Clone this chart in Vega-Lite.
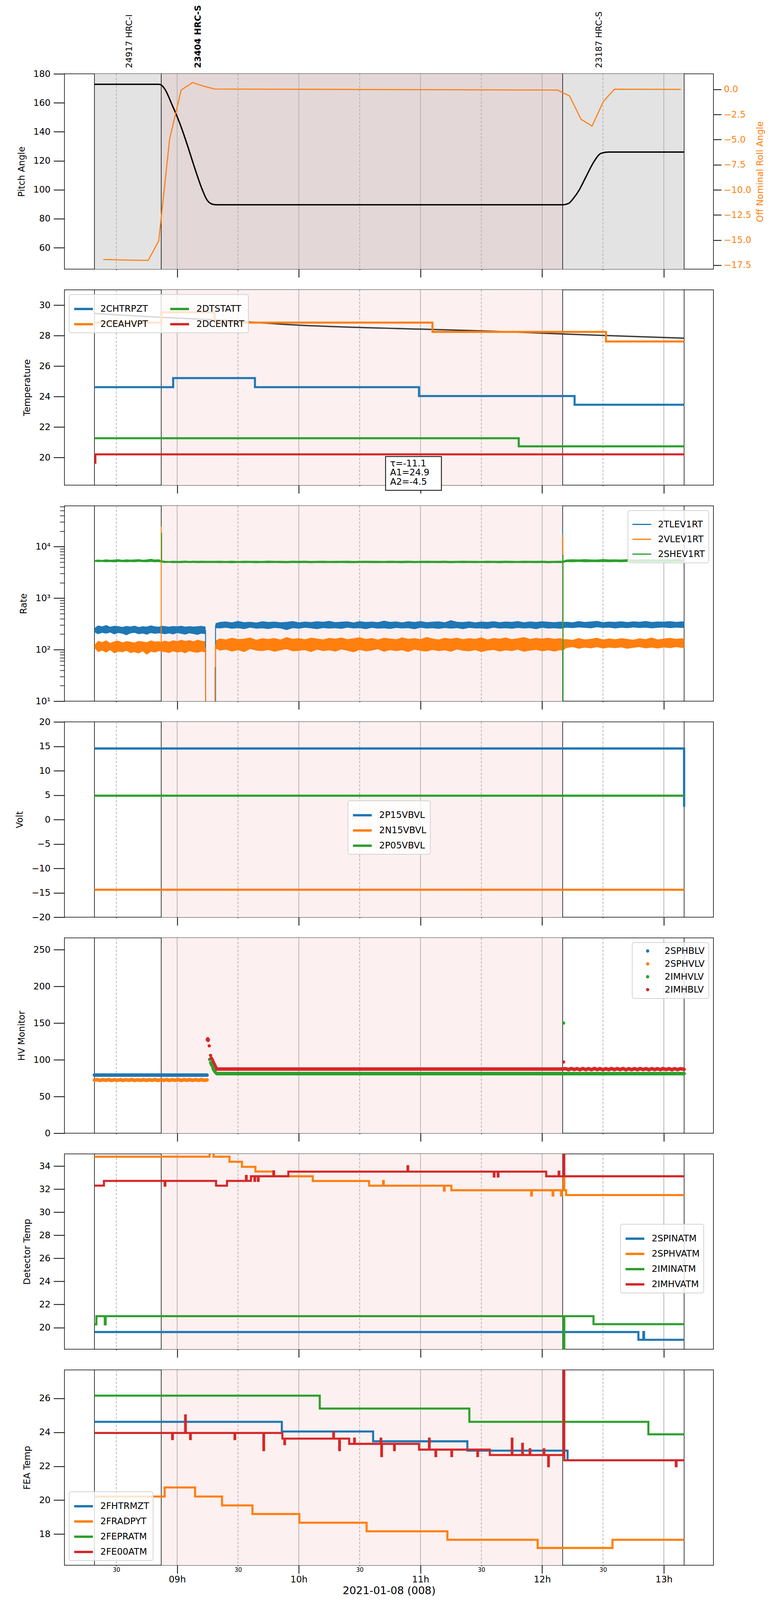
{
  "$schema": "https://vega.github.io/schema/vega-lite/v6.json",
  "padding": {"left": 38, "top": 12, "right": 5, "bottom": 2},
  "background": "white",
  "bounds": "flush",
  "spacing": 53,
  "config": {
    "font": "DejaVu Sans",
    "view": {"stroke": "#000", "strokeWidth": 1.5},
    "axis": {"labelFont": "DejaVu Sans", "titleFont": "DejaVu Sans", "labelFontSize": 23, "titleFontSize": 23, "titleFontWeight": "normal",
      "labelColor": "#000", "titleColor": "#000", "tickColor": "#000", "tickWidth": 2, "tickSize": 28, "labelPadding": 8, "titlePadding": 18, "domain": false, "grid": false},
    "legend": {"labelFont": "DejaVu Sans", "labelFontSize": 23, "labelColor": "#000", "symbolType": "stroke", "symbolStrokeWidth": 6, "symbolSize": 2304,
      "fillColor": "rgba(255,255,255,0.8)", "strokeColor": "#d4d4d4", "strokeWidth": 2, "cornerRadius": 5, "padding": 10, "rowPadding": -24, "labelOffset": 16, "offset": 12, "labelLimit": 0}
  },
  "datasets": {
    "shade": [{"t": "2021-01-08T08:52:08Z", "t2": "2021-01-08T12:10:06Z"}],
    "shadeall": [{"t": "2021-01-08T08:19:12Z", "t2": "2021-01-08T13:10:00Z"}],
    "vl": [{"t": "2021-01-08T08:19:12Z"}, {"t": "2021-01-08T08:52:08Z"}, {"t": "2021-01-08T12:10:06Z"}, {"t": "2021-01-08T13:10:00Z"}],
    "grid": [
      {"t": "2021-01-08T08:30:00Z", "k": "m"}, {"t": "2021-01-08T09:00:00Z", "k": "h"}, {"t": "2021-01-08T09:30:00Z", "k": "m"},
      {"t": "2021-01-08T10:00:00Z", "k": "h"}, {"t": "2021-01-08T10:30:00Z", "k": "m"}, {"t": "2021-01-08T11:00:00Z", "k": "h"},
      {"t": "2021-01-08T11:30:00Z", "k": "m"}, {"t": "2021-01-08T12:00:00Z", "k": "h"}, {"t": "2021-01-08T12:30:00Z", "k": "m"},
      {"t": "2021-01-08T13:00:00Z", "k": "h"}
    ],
    "lab": [
      {"t": "2021-01-08T08:36:20Z", "txt": "24917 HRC-I", "b": 0},
      {"t": "2021-01-08T09:10:16Z", "txt": "23404 HRC-S", "b": 1},
      {"t": "2021-01-08T12:28:00Z", "txt": "23187 HRC-S", "b": 0}
    ],
    "pitch": [
      {"t": "2021-01-08T08:19:12Z", "v": 172.8}, {"t": "2021-01-08T08:50:54Z", "v": 172.8}, {"t": "2021-01-08T08:52:08Z", "v": 172.3},
      {"t": "2021-01-08T08:53:51Z", "v": 169.6}, {"t": "2021-01-08T08:57:32Z", "v": 158.5}, {"t": "2021-01-08T09:01:14Z", "v": 146.1},
      {"t": "2021-01-08T09:04:55Z", "v": 131.3}, {"t": "2021-01-08T09:08:37Z", "v": 115.2}, {"t": "2021-01-08T09:12:18Z", "v": 100.4},
      {"t": "2021-01-08T09:14:45Z", "v": 92.9}, {"t": "2021-01-08T09:17:13Z", "v": 90.1}, {"t": "2021-01-08T09:19:40Z", "v": 89.6},
      {"t": "2021-01-08T12:10:06Z", "v": 89.6}, {"t": "2021-01-08T12:13:00Z", "v": 90.5}, {"t": "2021-01-08T12:15:29Z", "v": 94.2},
      {"t": "2021-01-08T12:17:57Z", "v": 99.1}, {"t": "2021-01-08T12:21:38Z", "v": 109.0}, {"t": "2021-01-08T12:25:20Z", "v": 118.9},
      {"t": "2021-01-08T12:29:00Z", "v": 125.1}, {"t": "2021-01-08T12:32:43Z", "v": 126.0}, {"t": "2021-01-08T13:10:00Z", "v": 126.0}
    ],
    "roll": [
      {"t": "2021-01-08T08:23:36Z", "v": -16.93}, {"t": "2021-01-08T08:34:12Z", "v": -16.98}, {"t": "2021-01-08T08:45:42Z", "v": -17.02},
      {"t": "2021-01-08T08:50:54Z", "v": -15.09}, {"t": "2021-01-08T08:56:18Z", "v": -4.94}, {"t": "2021-01-08T09:01:58Z", "v": -0.07},
      {"t": "2021-01-08T09:07:37Z", "v": 0.68}, {"t": "2021-01-08T09:12:47Z", "v": 0.34}, {"t": "2021-01-08T09:18:25Z", "v": 0.04},
      {"t": "2021-01-08T12:07:37Z", "v": -0.07}, {"t": "2021-01-08T12:13:32Z", "v": -0.66}, {"t": "2021-01-08T12:19:12Z", "v": -2.98},
      {"t": "2021-01-08T12:24:36Z", "v": -3.65}, {"t": "2021-01-08T12:30:14Z", "v": -1.19}, {"t": "2021-01-08T12:35:40Z", "v": 0.02},
      {"t": "2021-01-08T13:08:22Z", "v": 0.0}
    ],
    "model": [
      {"t": "2021-01-08T08:19:12Z", "v": 29.46}, {"t": "2021-01-08T08:52:08Z", "v": 29.2}, {"t": "2021-01-08T09:18:27Z", "v": 29.04},
      {"t": "2021-01-08T10:00:15Z", "v": 28.69}, {"t": "2021-01-08T11:00:00Z", "v": 28.43}, {"t": "2021-01-08T11:38:36Z", "v": 28.28},
      {"t": "2021-01-08T12:10:06Z", "v": 28.11}, {"t": "2021-01-08T13:10:00Z", "v": 27.84}
    ],
    "p2": [
      {"s": "2CHTRPZT", "t": "2021-01-08T08:19:12Z", "v": 24.62}, {"s": "2CHTRPZT", "t": "2021-01-08T08:58:02Z", "v": 25.22},
      {"s": "2CHTRPZT", "t": "2021-01-08T09:38:22Z", "v": 24.62}, {"s": "2CHTRPZT", "t": "2021-01-08T10:59:16Z", "v": 24.04},
      {"s": "2CHTRPZT", "t": "2021-01-08T12:15:59Z", "v": 23.47}, {"s": "2CHTRPZT", "t": "2021-01-08T13:10:00Z", "v": 23.47},
      {"s": "2CEAHVPT", "t": "2021-01-08T08:19:12Z", "v": 28.86}, {"s": "2CEAHVPT", "t": "2021-01-08T08:52:08Z", "v": 29.54},
      {"s": "2CEAHVPT", "t": "2021-01-08T09:18:27Z", "v": 28.86}, {"s": "2CEAHVPT", "t": "2021-01-08T11:05:54Z", "v": 28.25},
      {"s": "2CEAHVPT", "t": "2021-01-08T12:31:28Z", "v": 27.62}, {"s": "2CEAHVPT", "t": "2021-01-08T13:10:00Z", "v": 27.62},
      {"s": "2DTSTATT", "t": "2021-01-08T08:19:12Z", "v": 21.27}, {"s": "2DTSTATT", "t": "2021-01-08T11:48:27Z", "v": 20.74},
      {"s": "2DTSTATT", "t": "2021-01-08T13:10:00Z", "v": 20.74},
      {"s": "2DCENTRT", "t": "2021-01-08T08:19:12Z", "v": 19.66}, {"s": "2DCENTRT", "t": "2021-01-08T08:19:40Z", "v": 20.21},
      {"s": "2DCENTRT", "t": "2021-01-08T13:10:00Z", "v": 20.21}
    ],
    "ann": [{"t": "2021-01-08T10:42:47Z", "t2": "2021-01-08T11:10:19Z"}],
    "anntxt": [{"t": "2021-01-08T10:45:00Z"}],
    "p3": [
      {"seg": "a", "t": "2021-01-08T08:19:12Z", "b1": 218, "b2": 262, "o1": 108, "o2": 122, "g1": 5100, "g2": 5450},
      {"seg": "a", "t": "2021-01-08T08:21:00Z", "b1": 200, "b2": 295, "o1": 90, "o2": 148, "g1": 5000, "g2": 5600},
      {"seg": "a", "t": "2021-01-08T08:23:00Z", "b1": 212, "b2": 282, "o1": 96, "o2": 140, "g1": 5050, "g2": 5500},
      {"seg": "a", "t": "2021-01-08T08:25:00Z", "b1": 205, "b2": 300, "o1": 88, "o2": 152, "g1": 4980, "g2": 5650},
      {"seg": "a", "t": "2021-01-08T08:27:00Z", "b1": 215, "b2": 278, "o1": 98, "o2": 135, "g1": 5020, "g2": 5550},
      {"seg": "a", "t": "2021-01-08T08:29:00Z", "b1": 198, "b2": 290, "o1": 85, "o2": 145, "g1": 4950, "g2": 5600},
      {"seg": "a", "t": "2021-01-08T08:31:00Z", "b1": 210, "b2": 285, "o1": 92, "o2": 150, "g1": 5050, "g2": 5700},
      {"seg": "a", "t": "2021-01-08T08:33:00Z", "b1": 204, "b2": 276, "o1": 89, "o2": 138, "g1": 5000, "g2": 5520},
      {"seg": "a", "t": "2021-01-08T08:35:00Z", "b1": 190, "b2": 288, "o1": 95, "o2": 146, "g1": 4970, "g2": 5650},
      {"seg": "a", "t": "2021-01-08T08:37:00Z", "b1": 208, "b2": 281, "o1": 86, "o2": 142, "g1": 5030, "g2": 5580},
      {"seg": "a", "t": "2021-01-08T08:39:00Z", "b1": 212, "b2": 292, "o1": 90, "o2": 137, "g1": 4990, "g2": 5620},
      {"seg": "a", "t": "2021-01-08T08:41:00Z", "b1": 200, "b2": 275, "o1": 84, "o2": 148, "g1": 5060, "g2": 5700},
      {"seg": "a", "t": "2021-01-08T08:43:00Z", "b1": 206, "b2": 284, "o1": 93, "o2": 144, "g1": 5000, "g2": 5560},
      {"seg": "a", "t": "2021-01-08T08:45:00Z", "b1": 195, "b2": 279, "o1": 80, "o2": 139, "g1": 4980, "g2": 5640},
      {"seg": "a", "t": "2021-01-08T08:47:00Z", "b1": 210, "b2": 296, "o1": 91, "o2": 151, "g1": 5040, "g2": 5800},
      {"seg": "a", "t": "2021-01-08T08:49:00Z", "b1": 203, "b2": 283, "o1": 88, "o2": 143, "g1": 4990, "g2": 5600},
      {"seg": "a", "t": "2021-01-08T08:51:00Z", "b1": 208, "b2": 278, "o1": 94, "o2": 146, "g1": 5010, "g2": 5680},
      {"seg": "a", "t": "2021-01-08T08:52:08Z", "b1": 205, "b2": 290, "o1": 92, "o2": 140, "g1": 4900, "g2": 5400},
      {"seg": "a", "t": "2021-01-08T08:54:00Z", "b1": 200, "b2": 285, "o1": 90, "o2": 150, "g1": 4800, "g2": 5300},
      {"seg": "a", "t": "2021-01-08T08:56:00Z", "b1": 207, "b2": 280, "o1": 86, "o2": 142, "g1": 4850, "g2": 5250},
      {"seg": "a", "t": "2021-01-08T08:58:00Z", "b1": 198, "b2": 287, "o1": 93, "o2": 152, "g1": 4780, "g2": 5320},
      {"seg": "a", "t": "2021-01-08T09:00:00Z", "b1": 210, "b2": 283, "o1": 88, "o2": 146, "g1": 4820, "g2": 5280},
      {"seg": "a", "t": "2021-01-08T09:02:00Z", "b1": 203, "b2": 290, "o1": 91, "o2": 155, "g1": 4790, "g2": 5300},
      {"seg": "a", "t": "2021-01-08T09:04:00Z", "b1": 196, "b2": 279, "o1": 85, "o2": 148, "g1": 4840, "g2": 5330},
      {"seg": "a", "t": "2021-01-08T09:06:00Z", "b1": 208, "b2": 286, "o1": 94, "o2": 153, "g1": 4800, "g2": 5270},
      {"seg": "a", "t": "2021-01-08T09:08:00Z", "b1": 201, "b2": 281, "o1": 89, "o2": 145, "g1": 4830, "g2": 5310},
      {"seg": "a", "t": "2021-01-08T09:10:00Z", "b1": 194, "b2": 284, "o1": 87, "o2": 156, "g1": 4790, "g2": 5290},
      {"seg": "a", "t": "2021-01-08T09:12:00Z", "b1": 205, "b2": 289, "o1": 92, "o2": 149, "g1": 4820, "g2": 5320},
      {"seg": "a", "t": "2021-01-08T09:14:01Z", "b1": 200, "b2": 280, "o1": 88, "o2": 145, "g1": 4800, "g2": 5300},
      {"seg": "b", "t": "2021-01-08T09:18:56Z", "b1": 262, "b2": 325, "o1": 105, "o2": 150, "g1": 4800, "g2": 5300},
      {"seg": "b", "t": "2021-01-08T09:21:00Z", "b1": 258, "b2": 345, "o1": 96, "o2": 165, "g1": 4780, "g2": 5320},
      {"seg": "b", "t": "2021-01-08T09:24:00Z", "b1": 266, "b2": 352, "o1": 100, "o2": 158, "g1": 4820, "g2": 5280},
      {"seg": "b", "t": "2021-01-08T09:27:00Z", "b1": 255, "b2": 338, "o1": 92, "o2": 170, "g1": 4760, "g2": 5320},
      {"seg": "b", "t": "2021-01-08T09:30:00Z", "b1": 262, "b2": 360, "o1": 98, "o2": 160, "g1": 4800, "g2": 5260},
      {"seg": "b", "t": "2021-01-08T09:33:00Z", "b1": 250, "b2": 342, "o1": 90, "o2": 163, "g1": 4790, "g2": 5310},
      {"seg": "b", "t": "2021-01-08T09:36:00Z", "b1": 268, "b2": 348, "o1": 103, "o2": 172, "g1": 4810, "g2": 5290},
      {"seg": "b", "t": "2021-01-08T09:39:00Z", "b1": 256, "b2": 335, "o1": 96, "o2": 155, "g1": 4770, "g2": 5300},
      {"seg": "b", "t": "2021-01-08T09:42:00Z", "b1": 260, "b2": 356, "o1": 94, "o2": 166, "g1": 4800, "g2": 5270},
      {"seg": "b", "t": "2021-01-08T09:45:00Z", "b1": 252, "b2": 344, "o1": 99, "o2": 161, "g1": 4780, "g2": 5330},
      {"seg": "b", "t": "2021-01-08T09:48:00Z", "b1": 264, "b2": 350, "o1": 91, "o2": 168, "g1": 4820, "g2": 5290},
      {"seg": "b", "t": "2021-01-08T09:51:00Z", "b1": 258, "b2": 340, "o1": 97, "o2": 157, "g1": 4790, "g2": 5300},
      {"seg": "b", "t": "2021-01-08T09:54:00Z", "b1": 240, "b2": 346, "o1": 102, "o2": 175, "g1": 4760, "g2": 5280},
      {"seg": "b", "t": "2021-01-08T09:57:00Z", "b1": 262, "b2": 358, "o1": 93, "o2": 162, "g1": 4810, "g2": 5320},
      {"seg": "b", "t": "2021-01-08T10:00:00Z", "b1": 255, "b2": 339, "o1": 95, "o2": 167, "g1": 4790, "g2": 5290},
      {"seg": "b", "t": "2021-01-08T10:03:00Z", "b1": 266, "b2": 351, "o1": 98, "o2": 159, "g1": 4800, "g2": 5310},
      {"seg": "b", "t": "2021-01-08T10:06:00Z", "b1": 259, "b2": 343, "o1": 90, "o2": 171, "g1": 4770, "g2": 5280},
      {"seg": "b", "t": "2021-01-08T10:09:00Z", "b1": 250, "b2": 355, "o1": 100, "o2": 164, "g1": 4820, "g2": 5300},
      {"seg": "b", "t": "2021-01-08T10:12:00Z", "b1": 263, "b2": 347, "o1": 94, "o2": 158, "g1": 4790, "g2": 5320},
      {"seg": "b", "t": "2021-01-08T10:15:00Z", "b1": 257, "b2": 362, "o1": 97, "o2": 169, "g1": 4800, "g2": 5270},
      {"seg": "b", "t": "2021-01-08T10:18:00Z", "b1": 261, "b2": 341, "o1": 92, "o2": 163, "g1": 4780, "g2": 5300},
      {"seg": "b", "t": "2021-01-08T10:21:00Z", "b1": 254, "b2": 349, "o1": 101, "o2": 172, "g1": 4810, "g2": 5290},
      {"seg": "b", "t": "2021-01-08T10:24:00Z", "b1": 267, "b2": 353, "o1": 95, "o2": 160, "g1": 4790, "g2": 5310},
      {"seg": "b", "t": "2021-01-08T10:27:00Z", "b1": 258, "b2": 337, "o1": 89, "o2": 166, "g1": 4770, "g2": 5280},
      {"seg": "b", "t": "2021-01-08T10:30:00Z", "b1": 262, "b2": 357, "o1": 99, "o2": 174, "g1": 4800, "g2": 5300},
      {"seg": "b", "t": "2021-01-08T10:33:00Z", "b1": 251, "b2": 345, "o1": 93, "o2": 161, "g1": 4820, "g2": 5320},
      {"seg": "b", "t": "2021-01-08T10:36:00Z", "b1": 265, "b2": 350, "o1": 96, "o2": 168, "g1": 4790, "g2": 5290},
      {"seg": "b", "t": "2021-01-08T10:39:00Z", "b1": 256, "b2": 342, "o1": 102, "o2": 157, "g1": 4780, "g2": 5300},
      {"seg": "b", "t": "2021-01-08T10:42:00Z", "b1": 260, "b2": 365, "o1": 91, "o2": 170, "g1": 4810, "g2": 5280},
      {"seg": "b", "t": "2021-01-08T10:45:00Z", "b1": 253, "b2": 346, "o1": 98, "o2": 165, "g1": 4790, "g2": 5310},
      {"seg": "b", "t": "2021-01-08T10:48:00Z", "b1": 264, "b2": 352, "o1": 94, "o2": 159, "g1": 4800, "g2": 5290},
      {"seg": "b", "t": "2021-01-08T10:51:00Z", "b1": 258, "b2": 338, "o1": 97, "o2": 173, "g1": 4770, "g2": 5300},
      {"seg": "b", "t": "2021-01-08T10:54:00Z", "b1": 262, "b2": 355, "o1": 90, "o2": 162, "g1": 4820, "g2": 5320},
      {"seg": "b", "t": "2021-01-08T10:57:00Z", "b1": 249, "b2": 344, "o1": 100, "o2": 167, "g1": 4790, "g2": 5280},
      {"seg": "b", "t": "2021-01-08T11:00:00Z", "b1": 266, "b2": 358, "o1": 95, "o2": 160, "g1": 4800, "g2": 5300},
      {"seg": "b", "t": "2021-01-08T11:03:00Z", "b1": 257, "b2": 341, "o1": 92, "o2": 176, "g1": 4780, "g2": 5310},
      {"seg": "b", "t": "2021-01-08T11:06:00Z", "b1": 261, "b2": 349, "o1": 99, "o2": 164, "g1": 4810, "g2": 5290},
      {"seg": "b", "t": "2021-01-08T11:09:00Z", "b1": 254, "b2": 353, "o1": 94, "o2": 158, "g1": 4790, "g2": 5300},
      {"seg": "b", "t": "2021-01-08T11:12:00Z", "b1": 263, "b2": 340, "o1": 97, "o2": 169, "g1": 4800, "g2": 5320},
      {"seg": "b", "t": "2021-01-08T11:15:00Z", "b1": 256, "b2": 372, "o1": 91, "o2": 163, "g1": 4770, "g2": 5280},
      {"seg": "b", "t": "2021-01-08T11:18:00Z", "b1": 262, "b2": 347, "o1": 101, "o2": 171, "g1": 4820, "g2": 5300},
      {"seg": "b", "t": "2021-01-08T11:21:00Z", "b1": 251, "b2": 343, "o1": 95, "o2": 160, "g1": 4790, "g2": 5310},
      {"seg": "b", "t": "2021-01-08T11:24:00Z", "b1": 265, "b2": 354, "o1": 93, "o2": 167, "g1": 4800, "g2": 5290},
      {"seg": "b", "t": "2021-01-08T11:27:00Z", "b1": 258, "b2": 339, "o1": 98, "o2": 162, "g1": 4780, "g2": 5300},
      {"seg": "b", "t": "2021-01-08T11:30:00Z", "b1": 260, "b2": 351, "o1": 90, "o2": 174, "g1": 4810, "g2": 5280},
      {"seg": "b", "t": "2021-01-08T11:33:00Z", "b1": 253, "b2": 345, "o1": 96, "o2": 158, "g1": 4790, "g2": 5320},
      {"seg": "b", "t": "2021-01-08T11:36:00Z", "b1": 267, "b2": 356, "o1": 99, "o2": 168, "g1": 4800, "g2": 5300},
      {"seg": "b", "t": "2021-01-08T11:39:00Z", "b1": 257, "b2": 342, "o1": 92, "o2": 163, "g1": 4770, "g2": 5290},
      {"seg": "b", "t": "2021-01-08T11:42:00Z", "b1": 261, "b2": 350, "o1": 97, "o2": 172, "g1": 4820, "g2": 5310},
      {"seg": "b", "t": "2021-01-08T11:45:00Z", "b1": 255, "b2": 346, "o1": 94, "o2": 160, "g1": 4790, "g2": 5300},
      {"seg": "b", "t": "2021-01-08T11:48:00Z", "b1": 264, "b2": 358, "o1": 100, "o2": 166, "g1": 4800, "g2": 5280},
      {"seg": "b", "t": "2021-01-08T11:51:00Z", "b1": 258, "b2": 340, "o1": 91, "o2": 175, "g1": 4780, "g2": 5320},
      {"seg": "b", "t": "2021-01-08T11:54:00Z", "b1": 262, "b2": 352, "o1": 96, "o2": 161, "g1": 4810, "g2": 5290},
      {"seg": "b", "t": "2021-01-08T11:57:00Z", "b1": 250, "b2": 344, "o1": 99, "o2": 169, "g1": 4790, "g2": 5300},
      {"seg": "b", "t": "2021-01-08T12:00:00Z", "b1": 266, "b2": 355, "o1": 93, "o2": 164, "g1": 4800, "g2": 5310},
      {"seg": "b", "t": "2021-01-08T12:03:00Z", "b1": 257, "b2": 348, "o1": 97, "o2": 170, "g1": 4770, "g2": 5280},
      {"seg": "b", "t": "2021-01-08T12:06:00Z", "b1": 261, "b2": 341, "o1": 92, "o2": 162, "g1": 4820, "g2": 5300},
      {"seg": "b", "t": "2021-01-08T12:09:00Z", "b1": 255, "b2": 350, "o1": 98, "o2": 168, "g1": 4790, "g2": 5310},
      {"seg": "b", "t": "2021-01-08T12:10:06Z", "b1": 258, "b2": 345, "o1": 95, "o2": 160, "g1": 4800, "g2": 5300},
      {"seg": "b", "t": "2021-01-08T12:12:00Z", "b1": 268, "b2": 348, "o1": 108, "o2": 160, "g1": 5000, "g2": 5600},
      {"seg": "b", "t": "2021-01-08T12:15:00Z", "b1": 262, "b2": 340, "o1": 112, "o2": 155, "g1": 4980, "g2": 5680},
      {"seg": "b", "t": "2021-01-08T12:18:00Z", "b1": 270, "b2": 358, "o1": 104, "o2": 168, "g1": 5050, "g2": 5620},
      {"seg": "b", "t": "2021-01-08T12:21:00Z", "b1": 265, "b2": 345, "o1": 110, "o2": 158, "g1": 4970, "g2": 5700},
      {"seg": "b", "t": "2021-01-08T12:24:00Z", "b1": 260, "b2": 352, "o1": 106, "o2": 162, "g1": 5010, "g2": 5640},
      {"seg": "b", "t": "2021-01-08T12:27:00Z", "b1": 272, "b2": 362, "o1": 112, "o2": 170, "g1": 4990, "g2": 5600},
      {"seg": "b", "t": "2021-01-08T12:30:00Z", "b1": 264, "b2": 341, "o1": 105, "o2": 157, "g1": 5030, "g2": 5720},
      {"seg": "b", "t": "2021-01-08T12:33:00Z", "b1": 268, "b2": 350, "o1": 110, "o2": 165, "g1": 4980, "g2": 5630},
      {"seg": "b", "t": "2021-01-08T12:36:00Z", "b1": 258, "b2": 346, "o1": 107, "o2": 159, "g1": 5020, "g2": 5660},
      {"seg": "b", "t": "2021-01-08T12:39:00Z", "b1": 266, "b2": 355, "o1": 111, "o2": 167, "g1": 4990, "g2": 5610},
      {"seg": "b", "t": "2021-01-08T12:42:00Z", "b1": 262, "b2": 343, "o1": 104, "o2": 161, "g1": 5040, "g2": 5700},
      {"seg": "b", "t": "2021-01-08T12:45:00Z", "b1": 270, "b2": 353, "o1": 109, "o2": 156, "g1": 4970, "g2": 5640},
      {"seg": "b", "t": "2021-01-08T12:48:00Z", "b1": 263, "b2": 347, "o1": 112, "o2": 166, "g1": 5010, "g2": 5620},
      {"seg": "b", "t": "2021-01-08T12:51:00Z", "b1": 267, "b2": 360, "o1": 106, "o2": 160, "g1": 4990, "g2": 5690},
      {"seg": "b", "t": "2021-01-08T12:54:00Z", "b1": 259, "b2": 344, "o1": 110, "o2": 172, "g1": 5030, "g2": 5650},
      {"seg": "b", "t": "2021-01-08T12:57:00Z", "b1": 265, "b2": 352, "o1": 105, "o2": 158, "g1": 4980, "g2": 5610},
      {"seg": "b", "t": "2021-01-08T13:00:00Z", "b1": 270, "b2": 349, "o1": 111, "o2": 164, "g1": 5020, "g2": 5700},
      {"seg": "b", "t": "2021-01-08T13:03:00Z", "b1": 262, "b2": 357, "o1": 107, "o2": 169, "g1": 4990, "g2": 5640},
      {"seg": "b", "t": "2021-01-08T13:06:00Z", "b1": 268, "b2": 346, "o1": 112, "o2": 162, "g1": 5040, "g2": 5760},
      {"seg": "b", "t": "2021-01-08T13:09:00Z", "b1": 264, "b2": 354, "o1": 108, "o2": 166, "g1": 5000, "g2": 5650},
      {"seg": "b", "t": "2021-01-08T13:10:00Z", "b1": 266, "b2": 350, "o1": 110, "o2": 160, "g1": 5000, "g2": 5600}
    ],
    "p3s": [
      {"c": "2VLEV1RT", "t": "2021-01-08T08:52:08Z", "y": 120, "y2": 24600},
      {"c": "2SHEV1RT", "t": "2021-01-08T08:52:20Z", "y": 5100, "y2": 18700},
      {"c": "2TLEV1RT", "t": "2021-01-08T09:14:01Z", "y": 10, "y2": 240},
      {"c": "2VLEV1RT", "t": "2021-01-08T09:14:01Z", "y": 10, "y2": 110},
      {"c": "2TLEV1RT", "t": "2021-01-08T09:18:56Z", "y": 10, "y2": 300},
      {"c": "2VLEV1RT", "t": "2021-01-08T09:18:40Z", "y": 10, "y2": 46},
      {"c": "2VLEV1RT", "t": "2021-01-08T09:18:56Z", "y": 46, "y2": 125},
      {"c": "2TLEV1RT", "t": "2021-01-08T12:10:06Z", "y": 300, "y2": 22500},
      {"c": "2VLEV1RT", "t": "2021-01-08T12:10:12Z", "y": 100, "y2": 17000},
      {"c": "2SHEV1RT", "t": "2021-01-08T12:10:18Z", "y": 10, "y2": 7000}
    ],
    "p4": [
      {"s": "2P15VBVL", "t": "2021-01-08T08:19:12Z", "v": 14.55}, {"s": "2P15VBVL", "t": "2021-01-08T13:09:58Z", "v": 14.55},
      {"s": "2P15VBVL", "t": "2021-01-08T13:10:00Z", "v": 2.62},
      {"s": "2N15VBVL", "t": "2021-01-08T08:19:12Z", "v": -14.38}, {"s": "2N15VBVL", "t": "2021-01-08T13:10:00Z", "v": -14.38},
      {"s": "2P05VBVL", "t": "2021-01-08T08:19:12Z", "v": 4.88}, {"s": "2P05VBVL", "t": "2021-01-08T13:10:00Z", "v": 4.88}
    ],
    "p5l": [
      {"s": "2SPHBLV", "t": "2021-01-08T08:19:12Z", "v": 79.2}, {"s": "2SPHBLV", "t": "2021-01-08T09:14:45Z", "v": 79.2},
      {"s": "2SPHVLV", "t": "2021-01-08T08:19:12Z", "v": 72.4}, {"s": "2SPHVLV", "t": "2021-01-08T08:20:30Z", "v": 73.0},
      {"s": "2SPHVLV", "t": "2021-01-08T08:22:00Z", "v": 71.9}, {"s": "2SPHVLV", "t": "2021-01-08T08:23:20Z", "v": 72.9},
      {"s": "2SPHVLV", "t": "2021-01-08T08:24:50Z", "v": 72.0}, {"s": "2SPHVLV", "t": "2021-01-08T08:26:10Z", "v": 73.1},
      {"s": "2SPHVLV", "t": "2021-01-08T08:27:40Z", "v": 71.8}, {"s": "2SPHVLV", "t": "2021-01-08T08:29:00Z", "v": 72.9},
      {"s": "2SPHVLV", "t": "2021-01-08T08:30:30Z", "v": 72.0}, {"s": "2SPHVLV", "t": "2021-01-08T08:32:00Z", "v": 73.0},
      {"s": "2SPHVLV", "t": "2021-01-08T08:33:20Z", "v": 71.9}, {"s": "2SPHVLV", "t": "2021-01-08T08:34:50Z", "v": 72.9},
      {"s": "2SPHVLV", "t": "2021-01-08T08:36:10Z", "v": 72.0}, {"s": "2SPHVLV", "t": "2021-01-08T08:37:40Z", "v": 73.1},
      {"s": "2SPHVLV", "t": "2021-01-08T08:39:00Z", "v": 71.8}, {"s": "2SPHVLV", "t": "2021-01-08T08:40:30Z", "v": 72.8},
      {"s": "2SPHVLV", "t": "2021-01-08T08:42:00Z", "v": 72.0}, {"s": "2SPHVLV", "t": "2021-01-08T08:43:20Z", "v": 73.0},
      {"s": "2SPHVLV", "t": "2021-01-08T08:44:50Z", "v": 71.9}, {"s": "2SPHVLV", "t": "2021-01-08T08:46:10Z", "v": 72.9},
      {"s": "2SPHVLV", "t": "2021-01-08T08:47:40Z", "v": 72.0}, {"s": "2SPHVLV", "t": "2021-01-08T08:49:00Z", "v": 73.1},
      {"s": "2SPHVLV", "t": "2021-01-08T08:50:30Z", "v": 71.8}, {"s": "2SPHVLV", "t": "2021-01-08T08:52:00Z", "v": 72.9},
      {"s": "2SPHVLV", "t": "2021-01-08T08:53:20Z", "v": 72.0}, {"s": "2SPHVLV", "t": "2021-01-08T08:54:50Z", "v": 73.0},
      {"s": "2SPHVLV", "t": "2021-01-08T08:56:10Z", "v": 71.9}, {"s": "2SPHVLV", "t": "2021-01-08T08:57:40Z", "v": 72.8},
      {"s": "2SPHVLV", "t": "2021-01-08T08:59:00Z", "v": 72.0}, {"s": "2SPHVLV", "t": "2021-01-08T09:00:30Z", "v": 73.1},
      {"s": "2SPHVLV", "t": "2021-01-08T09:02:00Z", "v": 71.8}, {"s": "2SPHVLV", "t": "2021-01-08T09:03:20Z", "v": 72.9},
      {"s": "2SPHVLV", "t": "2021-01-08T09:04:50Z", "v": 72.0}, {"s": "2SPHVLV", "t": "2021-01-08T09:06:10Z", "v": 73.0},
      {"s": "2SPHVLV", "t": "2021-01-08T09:07:40Z", "v": 71.9}, {"s": "2SPHVLV", "t": "2021-01-08T09:09:00Z", "v": 72.9},
      {"s": "2SPHVLV", "t": "2021-01-08T09:10:30Z", "v": 72.0}, {"s": "2SPHVLV", "t": "2021-01-08T09:12:00Z", "v": 73.0},
      {"s": "2SPHVLV", "t": "2021-01-08T09:13:20Z", "v": 72.0}, {"s": "2SPHVLV", "t": "2021-01-08T09:14:45Z", "v": 72.6},
      {"s": "2IMHVLV", "t": "2021-01-08T09:19:40Z", "v": 81.1}, {"s": "2IMHVLV", "t": "2021-01-08T13:10:00Z", "v": 81.1},
      {"s": "2IMHBLV", "t": "2021-01-08T09:19:30Z", "v": 87.4}, {"s": "2IMHBLV", "t": "2021-01-08T12:10:06Z", "v": 87.4},
      {"s": "2IMHBLV", "t": "2021-01-08T12:11:30Z", "v": 88.0}, {"s": "2IMHBLV", "t": "2021-01-08T12:13:00Z", "v": 86.6},
      {"s": "2IMHBLV", "t": "2021-01-08T12:14:20Z", "v": 88.1}, {"s": "2IMHBLV", "t": "2021-01-08T12:15:50Z", "v": 86.7},
      {"s": "2IMHBLV", "t": "2021-01-08T12:17:10Z", "v": 87.9}, {"s": "2IMHBLV", "t": "2021-01-08T12:18:40Z", "v": 86.5},
      {"s": "2IMHBLV", "t": "2021-01-08T12:20:00Z", "v": 88.1}, {"s": "2IMHBLV", "t": "2021-01-08T12:21:30Z", "v": 86.6},
      {"s": "2IMHBLV", "t": "2021-01-08T12:22:50Z", "v": 88.0}, {"s": "2IMHBLV", "t": "2021-01-08T12:24:20Z", "v": 86.6},
      {"s": "2IMHBLV", "t": "2021-01-08T12:25:40Z", "v": 88.2}, {"s": "2IMHBLV", "t": "2021-01-08T12:27:10Z", "v": 86.7},
      {"s": "2IMHBLV", "t": "2021-01-08T12:28:30Z", "v": 88.0}, {"s": "2IMHBLV", "t": "2021-01-08T12:30:00Z", "v": 86.5},
      {"s": "2IMHBLV", "t": "2021-01-08T12:31:20Z", "v": 87.9}, {"s": "2IMHBLV", "t": "2021-01-08T12:32:50Z", "v": 86.6},
      {"s": "2IMHBLV", "t": "2021-01-08T12:34:10Z", "v": 88.1}, {"s": "2IMHBLV", "t": "2021-01-08T12:35:40Z", "v": 86.6},
      {"s": "2IMHBLV", "t": "2021-01-08T12:37:00Z", "v": 88.0}, {"s": "2IMHBLV", "t": "2021-01-08T12:38:30Z", "v": 86.7},
      {"s": "2IMHBLV", "t": "2021-01-08T12:39:50Z", "v": 88.1}, {"s": "2IMHBLV", "t": "2021-01-08T12:41:20Z", "v": 86.5},
      {"s": "2IMHBLV", "t": "2021-01-08T12:42:40Z", "v": 87.9}, {"s": "2IMHBLV", "t": "2021-01-08T12:44:10Z", "v": 86.6},
      {"s": "2IMHBLV", "t": "2021-01-08T12:45:30Z", "v": 88.0}, {"s": "2IMHBLV", "t": "2021-01-08T12:47:00Z", "v": 86.6},
      {"s": "2IMHBLV", "t": "2021-01-08T12:48:20Z", "v": 88.1}, {"s": "2IMHBLV", "t": "2021-01-08T12:49:50Z", "v": 86.7},
      {"s": "2IMHBLV", "t": "2021-01-08T12:51:10Z", "v": 88.0}, {"s": "2IMHBLV", "t": "2021-01-08T12:52:40Z", "v": 86.5},
      {"s": "2IMHBLV", "t": "2021-01-08T12:54:00Z", "v": 88.0}, {"s": "2IMHBLV", "t": "2021-01-08T12:55:30Z", "v": 86.6},
      {"s": "2IMHBLV", "t": "2021-01-08T12:56:50Z", "v": 87.9}, {"s": "2IMHBLV", "t": "2021-01-08T12:58:20Z", "v": 86.6},
      {"s": "2IMHBLV", "t": "2021-01-08T12:59:40Z", "v": 88.1}, {"s": "2IMHBLV", "t": "2021-01-08T13:01:10Z", "v": 86.7},
      {"s": "2IMHBLV", "t": "2021-01-08T13:02:30Z", "v": 88.0}, {"s": "2IMHBLV", "t": "2021-01-08T13:04:00Z", "v": 86.5},
      {"s": "2IMHBLV", "t": "2021-01-08T13:05:20Z", "v": 88.0}, {"s": "2IMHBLV", "t": "2021-01-08T13:06:50Z", "v": 86.6},
      {"s": "2IMHBLV", "t": "2021-01-08T13:08:10Z", "v": 87.9}, {"s": "2IMHBLV", "t": "2021-01-08T13:10:00Z", "v": 87.0}
    ],
    "p5p": [
      {"s": "2IMHVLV", "t": "2021-01-08T09:15:59Z", "v": 100.6}, {"s": "2IMHVLV", "t": "2021-01-08T09:16:28Z", "v": 96.0},
      {"s": "2IMHVLV", "t": "2021-01-08T09:16:50Z", "v": 93.5}, {"s": "2IMHVLV", "t": "2021-01-08T09:17:13Z", "v": 92.0},
      {"s": "2IMHVLV", "t": "2021-01-08T09:17:35Z", "v": 89.0}, {"s": "2IMHVLV", "t": "2021-01-08T09:17:57Z", "v": 86.5},
      {"s": "2IMHVLV", "t": "2021-01-08T09:18:26Z", "v": 84.5}, {"s": "2IMHVLV", "t": "2021-01-08T09:18:50Z", "v": 83.0},
      {"s": "2IMHVLV", "t": "2021-01-08T09:19:10Z", "v": 82.0}, {"s": "2IMHVLV", "t": "2021-01-08T12:10:35Z", "v": 150.0},
      {"s": "2IMHBLV", "t": "2021-01-08T09:14:50Z", "v": 127.5}, {"s": "2IMHBLV", "t": "2021-01-08T09:15:05Z", "v": 128.8},
      {"s": "2IMHBLV", "t": "2021-01-08T09:15:15Z", "v": 126.3}, {"s": "2IMHBLV", "t": "2021-01-08T09:15:25Z", "v": 127.2},
      {"s": "2IMHBLV", "t": "2021-01-08T09:15:50Z", "v": 119.0}, {"s": "2IMHBLV", "t": "2021-01-08T09:16:28Z", "v": 106.0},
      {"s": "2IMHBLV", "t": "2021-01-08T09:16:50Z", "v": 102.5}, {"s": "2IMHBLV", "t": "2021-01-08T09:17:13Z", "v": 101.0},
      {"s": "2IMHBLV", "t": "2021-01-08T09:17:35Z", "v": 98.7}, {"s": "2IMHBLV", "t": "2021-01-08T09:17:57Z", "v": 96.5},
      {"s": "2IMHBLV", "t": "2021-01-08T09:18:26Z", "v": 94.0}, {"s": "2IMHBLV", "t": "2021-01-08T09:18:50Z", "v": 91.5},
      {"s": "2IMHBLV", "t": "2021-01-08T09:19:10Z", "v": 89.5}, {"s": "2IMHBLV", "t": "2021-01-08T12:10:35Z", "v": 97.0}
    ],
    "p6": [
      {"s": "2SPINATM", "t": "2021-01-08T08:19:12Z", "v": 19.61}, {"s": "2SPINATM", "t": "2021-01-08T12:47:28Z", "v": 18.94},
      {"s": "2SPINATM", "t": "2021-01-08T12:49:55Z", "v": 19.61}, {"s": "2SPINATM", "t": "2021-01-08T12:50:15Z", "v": 18.94},
      {"s": "2SPINATM", "t": "2021-01-08T13:10:00Z", "v": 18.94},
      {"s": "2SPHVATM", "t": "2021-01-08T08:19:12Z", "v": 34.82}, {"s": "2SPHVATM", "t": "2021-01-08T09:16:00Z", "v": 35.5},
      {"s": "2SPHVATM", "t": "2021-01-08T09:17:57Z", "v": 34.82}, {"s": "2SPHVATM", "t": "2021-01-08T09:25:49Z", "v": 34.38},
      {"s": "2SPHVATM", "t": "2021-01-08T09:31:58Z", "v": 33.94}, {"s": "2SPHVATM", "t": "2021-01-08T09:38:36Z", "v": 33.53},
      {"s": "2SPHVATM", "t": "2021-01-08T09:47:28Z", "v": 33.12}, {"s": "2SPHVATM", "t": "2021-01-08T10:06:53Z", "v": 32.71},
      {"s": "2SPHVATM", "t": "2021-01-08T10:34:40Z", "v": 32.30}, {"s": "2SPHVATM", "t": "2021-01-08T10:41:34Z", "v": 32.72},
      {"s": "2SPHVATM", "t": "2021-01-08T10:41:54Z", "v": 32.30}, {"s": "2SPHVATM", "t": "2021-01-08T11:11:34Z", "v": 31.88},
      {"s": "2SPHVATM", "t": "2021-01-08T11:11:54Z", "v": 32.30}, {"s": "2SPHVATM", "t": "2021-01-08T11:15:14Z", "v": 31.91},
      {"s": "2SPHVATM", "t": "2021-01-08T11:54:35Z", "v": 31.45}, {"s": "2SPHVATM", "t": "2021-01-08T11:54:55Z", "v": 31.91},
      {"s": "2SPHVATM", "t": "2021-01-08T12:05:10Z", "v": 31.45}, {"s": "2SPHVATM", "t": "2021-01-08T12:05:30Z", "v": 31.91},
      {"s": "2SPHVATM", "t": "2021-01-08T12:09:20Z", "v": 31.45}, {"s": "2SPHVATM", "t": "2021-01-08T12:09:40Z", "v": 31.91},
      {"s": "2SPHVATM", "t": "2021-01-08T12:10:35Z", "v": 33.15}, {"s": "2SPHVATM", "t": "2021-01-08T12:10:55Z", "v": 31.91},
      {"s": "2SPHVATM", "t": "2021-01-08T12:11:48Z", "v": 31.49}, {"s": "2SPHVATM", "t": "2021-01-08T13:10:00Z", "v": 31.49},
      {"s": "2IMINATM", "t": "2021-01-08T08:19:12Z", "v": 20.28}, {"s": "2IMINATM", "t": "2021-01-08T08:20:11Z", "v": 20.99},
      {"s": "2IMINATM", "t": "2021-01-08T08:24:19Z", "v": 20.28}, {"s": "2IMINATM", "t": "2021-01-08T08:24:45Z", "v": 20.99},
      {"s": "2IMINATM", "t": "2021-01-08T12:10:35Z", "v": 17.0}, {"s": "2IMINATM", "t": "2021-01-08T12:10:55Z", "v": 20.99},
      {"s": "2IMINATM", "t": "2021-01-08T12:25:19Z", "v": 20.29}, {"s": "2IMINATM", "t": "2021-01-08T13:10:00Z", "v": 20.29},
      {"s": "2IMHVATM", "t": "2021-01-08T08:19:12Z", "v": 32.31}, {"s": "2IMHVATM", "t": "2021-01-08T08:23:54Z", "v": 32.72},
      {"s": "2IMHVATM", "t": "2021-01-08T08:53:51Z", "v": 32.30}, {"s": "2IMHVATM", "t": "2021-01-08T08:54:11Z", "v": 32.72},
      {"s": "2IMHVATM", "t": "2021-01-08T09:19:11Z", "v": 32.30}, {"s": "2IMHVATM", "t": "2021-01-08T09:24:35Z", "v": 32.72},
      {"s": "2IMHVATM", "t": "2021-01-08T09:33:56Z", "v": 33.15}, {"s": "2IMHVATM", "t": "2021-01-08T09:34:16Z", "v": 32.72},
      {"s": "2IMHVATM", "t": "2021-01-08T09:36:24Z", "v": 33.12}, {"s": "2IMHVATM", "t": "2021-01-08T09:38:06Z", "v": 32.72},
      {"s": "2IMHVATM", "t": "2021-01-08T09:38:26Z", "v": 33.12}, {"s": "2IMHVATM", "t": "2021-01-08T09:39:50Z", "v": 32.72},
      {"s": "2IMHVATM", "t": "2021-01-08T09:40:10Z", "v": 33.12}, {"s": "2IMHVATM", "t": "2021-01-08T09:47:28Z", "v": 33.55},
      {"s": "2IMHVATM", "t": "2021-01-08T09:47:48Z", "v": 33.12}, {"s": "2IMHVATM", "t": "2021-01-08T09:54:50Z", "v": 33.52},
      {"s": "2IMHVATM", "t": "2021-01-08T10:53:36Z", "v": 34.0}, {"s": "2IMHVATM", "t": "2021-01-08T10:53:56Z", "v": 33.52},
      {"s": "2IMHVATM", "t": "2021-01-08T11:36:08Z", "v": 33.10}, {"s": "2IMHVATM", "t": "2021-01-08T11:36:28Z", "v": 33.52},
      {"s": "2IMHVATM", "t": "2021-01-08T11:38:07Z", "v": 33.10}, {"s": "2IMHVATM", "t": "2021-01-08T11:38:27Z", "v": 33.52},
      {"s": "2IMHVATM", "t": "2021-01-08T12:02:00Z", "v": 33.12}, {"s": "2IMHVATM", "t": "2021-01-08T12:08:07Z", "v": 33.52},
      {"s": "2IMHVATM", "t": "2021-01-08T12:08:27Z", "v": 33.12}, {"s": "2IMHVATM", "t": "2021-01-08T12:10:35Z", "v": 36.0},
      {"s": "2IMHVATM", "t": "2021-01-08T12:10:55Z", "v": 33.12}, {"s": "2IMHVATM", "t": "2021-01-08T13:10:00Z", "v": 33.12}
    ],
    "p7": [
      {"s": "2FHTRMZT", "t": "2021-01-08T08:19:12Z", "v": 24.62}, {"s": "2FHTRMZT", "t": "2021-01-08T09:51:38Z", "v": 24.05},
      {"s": "2FHTRMZT", "t": "2021-01-08T10:36:38Z", "v": 23.47}, {"s": "2FHTRMZT", "t": "2021-01-08T11:23:07Z", "v": 22.92},
      {"s": "2FHTRMZT", "t": "2021-01-08T12:12:32Z", "v": 22.35}, {"s": "2FHTRMZT", "t": "2021-01-08T13:10:00Z", "v": 22.35},
      {"s": "2FRADPYT", "t": "2021-01-08T08:19:12Z", "v": 20.21}, {"s": "2FRADPYT", "t": "2021-01-08T08:53:51Z", "v": 20.75},
      {"s": "2FRADPYT", "t": "2021-01-08T09:08:51Z", "v": 20.21}, {"s": "2FRADPYT", "t": "2021-01-08T09:22:08Z", "v": 19.69},
      {"s": "2FRADPYT", "t": "2021-01-08T09:37:08Z", "v": 19.18}, {"s": "2FRADPYT", "t": "2021-01-08T10:00:15Z", "v": 18.67},
      {"s": "2FRADPYT", "t": "2021-01-08T10:33:26Z", "v": 18.16}, {"s": "2FRADPYT", "t": "2021-01-08T11:13:17Z", "v": 17.66},
      {"s": "2FRADPYT", "t": "2021-01-08T11:57:47Z", "v": 17.18}, {"s": "2FRADPYT", "t": "2021-01-08T12:34:40Z", "v": 17.66},
      {"s": "2FRADPYT", "t": "2021-01-08T13:10:00Z", "v": 17.66},
      {"s": "2FEPRATM", "t": "2021-01-08T08:19:12Z", "v": 26.16}, {"s": "2FEPRATM", "t": "2021-01-08T10:10:20Z", "v": 25.40},
      {"s": "2FEPRATM", "t": "2021-01-08T11:24:06Z", "v": 24.62}, {"s": "2FEPRATM", "t": "2021-01-08T12:52:23Z", "v": 23.88},
      {"s": "2FEPRATM", "t": "2021-01-08T13:10:00Z", "v": 23.88},
      {"s": "2FE00ATM", "t": "2021-01-08T08:19:12Z", "v": 23.96}, {"s": "2FE00ATM", "t": "2021-01-08T08:57:32Z", "v": 23.6},
      {"s": "2FE00ATM", "t": "2021-01-08T08:57:52Z", "v": 23.96}, {"s": "2FE00ATM", "t": "2021-01-08T09:03:56Z", "v": 25.0},
      {"s": "2FE00ATM", "t": "2021-01-08T09:04:16Z", "v": 23.96}, {"s": "2FE00ATM", "t": "2021-01-08T09:06:23Z", "v": 23.6},
      {"s": "2FE00ATM", "t": "2021-01-08T09:06:43Z", "v": 23.96}, {"s": "2FE00ATM", "t": "2021-01-08T09:28:17Z", "v": 23.6},
      {"s": "2FE00ATM", "t": "2021-01-08T09:28:37Z", "v": 23.96}, {"s": "2FE00ATM", "t": "2021-01-08T09:42:32Z", "v": 22.95},
      {"s": "2FE00ATM", "t": "2021-01-08T09:42:52Z", "v": 23.96}, {"s": "2FE00ATM", "t": "2021-01-08T09:51:53Z", "v": 23.63},
      {"s": "2FE00ATM", "t": "2021-01-08T09:52:52Z", "v": 23.3}, {"s": "2FE00ATM", "t": "2021-01-08T09:53:12Z", "v": 23.63},
      {"s": "2FE00ATM", "t": "2021-01-08T10:17:00Z", "v": 24.0}, {"s": "2FE00ATM", "t": "2021-01-08T10:17:20Z", "v": 23.63},
      {"s": "2FE00ATM", "t": "2021-01-08T10:19:55Z", "v": 22.95}, {"s": "2FE00ATM", "t": "2021-01-08T10:20:15Z", "v": 23.63},
      {"s": "2FE00ATM", "t": "2021-01-08T10:24:50Z", "v": 23.32}, {"s": "2FE00ATM", "t": "2021-01-08T10:27:18Z", "v": 23.63},
      {"s": "2FE00ATM", "t": "2021-01-08T10:27:38Z", "v": 23.32}, {"s": "2FE00ATM", "t": "2021-01-08T10:40:20Z", "v": 23.63},
      {"s": "2FE00ATM", "t": "2021-01-08T10:40:40Z", "v": 22.6}, {"s": "2FE00ATM", "t": "2021-01-08T10:41:00Z", "v": 23.32},
      {"s": "2FE00ATM", "t": "2021-01-08T10:47:00Z", "v": 22.95}, {"s": "2FE00ATM", "t": "2021-01-08T10:47:20Z", "v": 23.32},
      {"s": "2FE00ATM", "t": "2021-01-08T10:59:16Z", "v": 22.98}, {"s": "2FE00ATM", "t": "2021-01-08T11:04:11Z", "v": 23.63},
      {"s": "2FE00ATM", "t": "2021-01-08T11:04:31Z", "v": 22.98}, {"s": "2FE00ATM", "t": "2021-01-08T11:07:23Z", "v": 22.6},
      {"s": "2FE00ATM", "t": "2021-01-08T11:07:43Z", "v": 22.98}, {"s": "2FE00ATM", "t": "2021-01-08T11:15:14Z", "v": 22.6},
      {"s": "2FE00ATM", "t": "2021-01-08T11:15:34Z", "v": 22.98}, {"s": "2FE00ATM", "t": "2021-01-08T11:28:02Z", "v": 22.6},
      {"s": "2FE00ATM", "t": "2021-01-08T11:28:22Z", "v": 22.98}, {"s": "2FE00ATM", "t": "2021-01-08T11:34:11Z", "v": 22.66},
      {"s": "2FE00ATM", "t": "2021-01-08T11:45:00Z", "v": 23.63}, {"s": "2FE00ATM", "t": "2021-01-08T11:45:20Z", "v": 22.66},
      {"s": "2FE00ATM", "t": "2021-01-08T11:50:10Z", "v": 23.32}, {"s": "2FE00ATM", "t": "2021-01-08T11:50:30Z", "v": 22.66},
      {"s": "2FE00ATM", "t": "2021-01-08T11:53:50Z", "v": 23.0}, {"s": "2FE00ATM", "t": "2021-01-08T11:54:10Z", "v": 22.66},
      {"s": "2FE00ATM", "t": "2021-01-08T12:00:44Z", "v": 23.0}, {"s": "2FE00ATM", "t": "2021-01-08T12:01:04Z", "v": 22.66},
      {"s": "2FE00ATM", "t": "2021-01-08T12:02:58Z", "v": 22.0}, {"s": "2FE00ATM", "t": "2021-01-08T12:03:18Z", "v": 22.66},
      {"s": "2FE00ATM", "t": "2021-01-08T12:10:35Z", "v": 28.5}, {"s": "2FE00ATM", "t": "2021-01-08T12:10:55Z", "v": 22.35},
      {"s": "2FE00ATM", "t": "2021-01-08T13:05:55Z", "v": 22.0}, {"s": "2FE00ATM", "t": "2021-01-08T13:06:15Z", "v": 22.35},
      {"s": "2FE00ATM", "t": "2021-01-08T13:10:00Z", "v": 22.35}
    ]
  },
  "resolve": {"scale": {"x": "independent", "y": "independent", "color": "independent", "strokeDash": "independent"}},
  "vconcat": [
    {
      "width": 1662, "height": 500,
      "encoding": {"x": {"field": "t", "type": "temporal", "scale": {"type": "utc", "domain": [1610093065000, 1610112268000]},
        "axis": {"title": null, "labels": false, "values": [1610094600000, 1610096400000, 1610098200000, 1610100000000, 1610101800000, 1610103600000, 1610105400000, 1610107200000, 1610109000000, 1610110800000],
          "tickSize": {"condition": {"test": "utcminutes(datum.value) == 0", "value": 21}, "value": 2}}}},
      "layer": [
        {"data": {"name": "shadeall"}, "mark": {"type": "rect", "color": "#e3e3e3"}, "encoding": {"x2": {"field": "t2"}}},
        {"data": {"name": "shade"}, "mark": {"type": "rect", "color": "#e3d7d7"}, "encoding": {"x2": {"field": "t2"}}},
        {"data": {"name": "grid"}, "mark": {"type": "rule", "color": "#b0b0b0", "strokeWidth": 1.8},
          "encoding": {"strokeDash": {"field": "k", "type": "nominal", "scale": {"domain": ["h", "m"], "range": [[1, 0], [6, 4]]}, "legend": null}}},
        {"data": {"name": "vl"}, "mark": {"type": "rule", "color": "#000", "strokeWidth": 1.5}, "encoding": {}},
        {"data": {"name": "pitch"}, "mark": {"type": "line", "color": "#000", "strokeWidth": 3.5, "interpolate": "monotone"},
          "encoding": {"y": {"field": "v", "type": "quantitative", "scale": {"domain": [45.2, 180], "nice": false, "zero": false},
            "axis": {"title": "Pitch Angle", "orient": "left", "values": [60, 80, 100, 120, 140, 160, 180]}}}},
        {"data": {"name": "lab"}, "transform": [{"filter": "datum.b == 0"}],
          "mark": {"type": "text", "angle": 270, "align": "left", "baseline": "middle", "fontSize": 22, "color": "#000"},
          "encoding": {"y": {"datum": 184, "type": "quantitative", "scale": {"domain": [45.2, 180], "nice": false, "zero": false}, "axis": null}, "text": {"field": "txt"}}},
        {"data": {"name": "lab"}, "transform": [{"filter": "datum.b == 1"}],
          "mark": {"type": "text", "angle": 270, "align": "left", "baseline": "middle", "fontSize": 22, "fontWeight": "bold", "color": "#000"},
          "encoding": {"y": {"datum": 184, "type": "quantitative", "scale": {"domain": [45.2, 180], "nice": false, "zero": false}, "axis": null}, "text": {"field": "txt"}}},
        {"data": {"name": "roll"}, "mark": {"type": "line", "color": "#ff7f0e", "strokeWidth": 2.8},
          "encoding": {"y": {"field": "v", "type": "quantitative", "scale": {"domain": [-17.89, 1.55], "nice": false, "zero": false},
            "axis": {"title": "Off Nominal Roll Angle", "orient": "right", "values": [0, -2.5, -5, -7.5, -10, -12.5, -15, -17.5], "format": ".1f",
              "labelColor": "#ff7f0e", "titleColor": "#ff7f0e", "titleAngle": 270, "titleBaseline": "top", "tickSize": 20, "labelPadding": 6, "titlePadding": 12}}}}
      ],
      "resolve": {"scale": {"y": "independent"}, "axis": {"y": "independent"}}
    },
    {
      "width": 1662, "height": 500,
      "encoding": {"x": {"field": "t", "type": "temporal", "scale": {"type": "utc", "domain": [1610093065000, 1610112268000]},
        "axis": {"title": null, "labels": false, "values": [1610094600000, 1610096400000, 1610098200000, 1610100000000, 1610101800000, 1610103600000, 1610105400000, 1610107200000, 1610109000000, 1610110800000],
          "tickSize": {"condition": {"test": "utcminutes(datum.value) == 0", "value": 21}, "value": 2}}}},
      "layer": [
        {"data": {"name": "shade"}, "mark": {"type": "rect", "color": "#fdf0f0"}, "encoding": {"x2": {"field": "t2"}}},
        {"data": {"name": "grid"}, "mark": {"type": "rule", "color": "#b0b0b0", "strokeWidth": 1.8},
          "encoding": {"strokeDash": {"field": "k", "type": "nominal", "scale": {"domain": ["h", "m"], "range": [[1, 0], [6, 4]]}, "legend": null}}},
        {"data": {"name": "vl"}, "mark": {"type": "rule", "color": "#000", "strokeWidth": 1.5}, "encoding": {}},
        {"data": {"name": "model"}, "mark": {"type": "line", "color": "#3a3a3a", "strokeWidth": 3.5, "interpolate": "monotone"},
          "encoding": {"y": {"field": "v", "type": "quantitative", "scale": {"domain": [18.19, 31.01], "nice": false, "zero": false},
            "axis": {"title": "Temperature", "values": [20, 22, 24, 26, 28, 30]}}}},
        {"data": {"name": "p2"}, "mark": {"type": "line", "strokeWidth": 5.3, "interpolate": "step-after"},
          "encoding": {"y": {"field": "v", "type": "quantitative"},
            "color": {"field": "s", "type": "nominal", "scale": {"domain": ["2CHTRPZT", "2CEAHVPT", "2DTSTATT", "2DCENTRT"], "range": ["#1f77b4", "#ff7f0e", "#2ca02c", "#d62728"]},
              "legend": {"title": null, "orient": "top-left", "columns": 2, "columnPadding": 45}}}},
        {"data": {"name": "ann"}, "mark": {"type": "rect", "fill": "#fff", "stroke": "#000", "strokeWidth": 2},
          "encoding": {"x2": {"field": "t2"}, "y": {"datum": 20.07}, "y2": {"datum": 17.85}}},
        {"data": {"name": "anntxt"}, "mark": {"type": "text", "align": "left", "baseline": "middle", "fontSize": 23, "lineHeight": 23.5, "color": "#000"},
          "encoding": {"y": {"datum": 19.61}, "text": {"value": ["τ=-11.1", "A1=24.9", "A2=-4.5"]}}}
      ]
    },
    {
      "width": 1662, "height": 500,
      "encoding": {"x": {"field": "t", "type": "temporal", "scale": {"type": "utc", "domain": [1610093065000, 1610112268000]},
        "axis": {"title": null, "labels": false, "values": [1610094600000, 1610096400000, 1610098200000, 1610100000000, 1610101800000, 1610103600000, 1610105400000, 1610107200000, 1610109000000, 1610110800000],
          "tickSize": {"condition": {"test": "utcminutes(datum.value) == 0", "value": 21}, "value": 2}}}},
      "layer": [
        {"data": {"name": "shade"}, "mark": {"type": "rect", "color": "#fdf0f0"}, "encoding": {"x2": {"field": "t2"}}},
        {"data": {"name": "grid"}, "mark": {"type": "rule", "color": "#b0b0b0", "strokeWidth": 1.8},
          "encoding": {"strokeDash": {"field": "k", "type": "nominal", "scale": {"domain": ["h", "m"], "range": [[1, 0], [6, 4]]}, "legend": null}}},
        {"data": {"name": "vl"}, "mark": {"type": "rule", "color": "#000", "strokeWidth": 1.5}, "encoding": {}},
        {"data": {"name": "p3"}, "mark": {"type": "area", "color": "#1f77b4", "clip": true},
          "encoding": {"y": {"field": "b1", "type": "quantitative", "scale": {"type": "log", "domain": [10, 61800], "nice": false},
            "axis": {"title": "Rate", "orient": "left", "labelOverlap": false, "values": [10, 100, 1000, 10000],
              "labelExpr": "datum.value == 10 ? '10¹' : datum.value == 100 ? '10²' : datum.value == 1000 ? '10³' : '10⁴'"}},
            "y2": {"field": "b2"}, "detail": {"field": "seg"}}},
        {"data": {"name": "p3"}, "mark": {"type": "area", "color": "#ff7f0e", "clip": true},
          "encoding": {"y": {"field": "o1", "type": "quantitative",
            "axis": {"title": null, "orient": "left", "labels": false, "tickSize": 12, "tickWidth": 1.5,
              "values": [20, 30, 40, 50, 60, 70, 80, 90, 200, 300, 400, 500, 600, 700, 800, 900, 2000, 3000, 4000, 5000, 6000, 7000, 8000, 9000, 20000, 30000, 40000, 50000, 60000]}},
            "y2": {"field": "o2"}, "detail": {"field": "seg"}}},
        {"data": {"name": "p3"}, "mark": {"type": "area", "color": "#2ca02c", "clip": true},
          "encoding": {"y": {"field": "g1", "type": "quantitative", "axis": null}, "y2": {"field": "g2"}}},
        {"data": {"name": "p3s"}, "mark": {"type": "rule", "strokeWidth": 2.5, "clip": true},
          "encoding": {"y": {"field": "y", "type": "quantitative", "axis": null}, "y2": {"field": "y2"},
            "color": {"field": "c", "type": "nominal", "scale": {"domain": ["2TLEV1RT", "2VLEV1RT", "2SHEV1RT"], "range": ["#1f77b4", "#ff7f0e", "#2ca02c"]},
              "legend": {"title": null, "orient": "top-right", "symbolStrokeWidth": 3}}}}
      ],
      "resolve": {"axis": {"y": "independent"}}
    },
    {
      "width": 1662, "height": 500,
      "encoding": {"x": {"field": "t", "type": "temporal", "scale": {"type": "utc", "domain": [1610093065000, 1610112268000]},
        "axis": {"title": null, "labels": false, "values": [1610094600000, 1610096400000, 1610098200000, 1610100000000, 1610101800000, 1610103600000, 1610105400000, 1610107200000, 1610109000000, 1610110800000],
          "tickSize": {"condition": {"test": "utcminutes(datum.value) == 0", "value": 21}, "value": 2}}}},
      "layer": [
        {"data": {"name": "shade"}, "mark": {"type": "rect", "color": "#fdf0f0"}, "encoding": {"x2": {"field": "t2"}}},
        {"data": {"name": "grid"}, "mark": {"type": "rule", "color": "#b0b0b0", "strokeWidth": 1.8},
          "encoding": {"strokeDash": {"field": "k", "type": "nominal", "scale": {"domain": ["h", "m"], "range": [[1, 0], [6, 4]]}, "legend": null}}},
        {"data": {"name": "vl"}, "mark": {"type": "rule", "color": "#000", "strokeWidth": 1.5}, "encoding": {}},
        {"data": {"name": "p4"}, "mark": {"type": "line", "strokeWidth": 5.7, "interpolate": "step-after"},
          "encoding": {"y": {"field": "v", "type": "quantitative", "scale": {"domain": [-20, 20], "nice": false, "zero": false},
            "axis": {"title": "Volt", "values": [-20, -15, -10, -5, 0, 5, 10, 15, 20]}},
            "color": {"field": "s", "type": "nominal", "scale": {"domain": ["2P15VBVL", "2N15VBVL", "2P05VBVL"], "range": ["#1f77b4", "#ff7f0e", "#2ca02c"]},
              "legend": {"title": null, "orient": "none", "legendX": 726, "legendY": 202}}}}
      ]
    },
    {
      "width": 1662, "height": 500,
      "encoding": {"x": {"field": "t", "type": "temporal", "scale": {"type": "utc", "domain": [1610093065000, 1610112268000]},
        "axis": {"title": null, "labels": false, "values": [1610094600000, 1610096400000, 1610098200000, 1610100000000, 1610101800000, 1610103600000, 1610105400000, 1610107200000, 1610109000000, 1610110800000],
          "tickSize": {"condition": {"test": "utcminutes(datum.value) == 0", "value": 21}, "value": 2}}}},
      "layer": [
        {"data": {"name": "shade"}, "mark": {"type": "rect", "color": "#fdf0f0"}, "encoding": {"x2": {"field": "t2"}}},
        {"data": {"name": "grid"}, "mark": {"type": "rule", "color": "#b0b0b0", "strokeWidth": 1.8},
          "encoding": {"strokeDash": {"field": "k", "type": "nominal", "scale": {"domain": ["h", "m"], "range": [[1, 0], [6, 4]]}, "legend": null}}},
        {"data": {"name": "vl"}, "mark": {"type": "rule", "color": "#000", "strokeWidth": 1.5}, "encoding": {}},
        {"data": {"name": "p5l"}, "transform": [{"filter": "datum.s == '2SPHBLV'"}],
          "mark": {"type": "line", "color": "#1f77b4", "strokeWidth": 9, "strokeCap": "round", "strokeJoin": "round"},
          "encoding": {"y": {"field": "v", "type": "quantitative", "scale": {"domain": [0, 266.1], "nice": false, "zero": false},
            "axis": {"title": "HV Monitor", "values": [0, 50, 100, 150, 200, 250]}}}},
        {"data": {"name": "p5l"}, "transform": [{"filter": "datum.s == '2SPHVLV'"}],
          "mark": {"type": "line", "color": "#ff7f0e", "strokeWidth": 9, "strokeCap": "round", "strokeJoin": "round"},
          "encoding": {"y": {"field": "v", "type": "quantitative"}}},
        {"data": {"name": "p5l"}, "transform": [{"filter": "datum.s == '2IMHVLV'"}],
          "mark": {"type": "line", "color": "#2ca02c", "strokeWidth": 9, "strokeCap": "round", "strokeJoin": "round"},
          "encoding": {"y": {"field": "v", "type": "quantitative"}}},
        {"data": {"name": "p5l"}, "transform": [{"filter": "datum.s == '2IMHBLV'"}],
          "mark": {"type": "line", "color": "#d62728", "strokeWidth": 9, "strokeCap": "round", "strokeJoin": "round"},
          "encoding": {"y": {"field": "v", "type": "quantitative"}}},
        {"data": {"name": "p5p"}, "mark": {"type": "point", "filled": true, "size": 70, "opacity": 1},
          "encoding": {"y": {"field": "v", "type": "quantitative"},
            "color": {"field": "s", "type": "nominal", "scale": {"domain": ["2SPHBLV", "2SPHVLV", "2IMHVLV", "2IMHBLV"], "range": ["#1f77b4", "#ff7f0e", "#2ca02c", "#d62728"]},
              "legend": {"title": null, "orient": "top-right", "symbolType": "circle", "symbolSize": 70, "rowPadding": 9, "symbolOffset": 18, "labelOffset": 32}}}}
      ]
    },
    {
      "width": 1662, "height": 500,
      "encoding": {"x": {"field": "t", "type": "temporal", "scale": {"type": "utc", "domain": [1610093065000, 1610112268000]},
        "axis": {"title": null, "labels": false, "values": [1610094600000, 1610096400000, 1610098200000, 1610100000000, 1610101800000, 1610103600000, 1610105400000, 1610107200000, 1610109000000, 1610110800000],
          "tickSize": {"condition": {"test": "utcminutes(datum.value) == 0", "value": 21}, "value": 2}}}},
      "layer": [
        {"data": {"name": "shade"}, "mark": {"type": "rect", "color": "#fdf0f0"}, "encoding": {"x2": {"field": "t2"}}},
        {"data": {"name": "grid"}, "mark": {"type": "rule", "color": "#b0b0b0", "strokeWidth": 1.8},
          "encoding": {"strokeDash": {"field": "k", "type": "nominal", "scale": {"domain": ["h", "m"], "range": [[1, 0], [6, 4]]}, "legend": null}}},
        {"data": {"name": "vl"}, "mark": {"type": "rule", "color": "#000", "strokeWidth": 1.5}, "encoding": {}},
        {"data": {"name": "p6"}, "mark": {"type": "line", "strokeWidth": 5.3, "interpolate": "step-after", "clip": true},
          "encoding": {"y": {"field": "v", "type": "quantitative", "scale": {"domain": [18.12, 35.06], "nice": false, "zero": false},
            "axis": {"title": "Detector Temp", "values": [20, 22, 24, 26, 28, 30, 32, 34]}},
            "color": {"field": "s", "type": "nominal", "scale": {"domain": ["2SPINATM", "2SPHVATM", "2IMINATM", "2IMHVATM"], "range": ["#1f77b4", "#ff7f0e", "#2ca02c", "#d62728"]},
              "legend": {"title": null, "orient": "none", "legendX": 1424, "legendY": 180}}}}
      ]
    },
    {
      "width": 1662, "height": 500,
      "encoding": {"x": {"field": "t", "type": "temporal", "scale": {"type": "utc", "domain": [1610093065000, 1610112268000]},
        "axis": {"title": "2021-01-08 (008)", "titleFontSize": 27, "titlePadding": 4, "labelOverlap": false, "labelFlush": false, "labelBaseline": "top",
          "values": [1610094600000, 1610096400000, 1610098200000, 1610100000000, 1610101800000, 1610103600000, 1610105400000, 1610107200000, 1610109000000, 1610110800000],
          "labelExpr": "utcminutes(datum.value) == 0 ? utcFormat(datum.value, '%Hh') : '30'",
          "labelFontSize": {"condition": {"test": "utcminutes(datum.value) == 0", "value": 23}, "value": 15},
          "labelPadding": {"condition": {"test": "utcminutes(datum.value) == 0", "value": 4}, "value": 2},
          "tickSize": {"condition": {"test": "utcminutes(datum.value) == 0", "value": 21}, "value": 2}}}},
      "layer": [
        {"data": {"name": "shade"}, "mark": {"type": "rect", "color": "#fdf0f0"}, "encoding": {"x2": {"field": "t2"}}},
        {"data": {"name": "grid"}, "mark": {"type": "rule", "color": "#b0b0b0", "strokeWidth": 1.8},
          "encoding": {"strokeDash": {"field": "k", "type": "nominal", "scale": {"domain": ["h", "m"], "range": [[1, 0], [6, 4]]}, "legend": null}}},
        {"data": {"name": "vl"}, "mark": {"type": "rule", "color": "#000", "strokeWidth": 1.5}, "encoding": {}},
        {"data": {"name": "p7"}, "mark": {"type": "line", "strokeWidth": 5.3, "interpolate": "step-after", "clip": true},
          "encoding": {"y": {"field": "v", "type": "quantitative", "scale": {"domain": [16.16, 27.68], "nice": false, "zero": false},
            "axis": {"title": "FEA Temp", "values": [18, 20, 22, 24, 26]}},
            "color": {"field": "s", "type": "nominal", "scale": {"domain": ["2FHTRMZT", "2FRADPYT", "2FEPRATM", "2FE00ATM"], "range": ["#1f77b4", "#ff7f0e", "#2ca02c", "#d62728"]},
              "legend": {"title": null, "orient": "bottom-left"}}}}
      ]
    }
  ]
}
